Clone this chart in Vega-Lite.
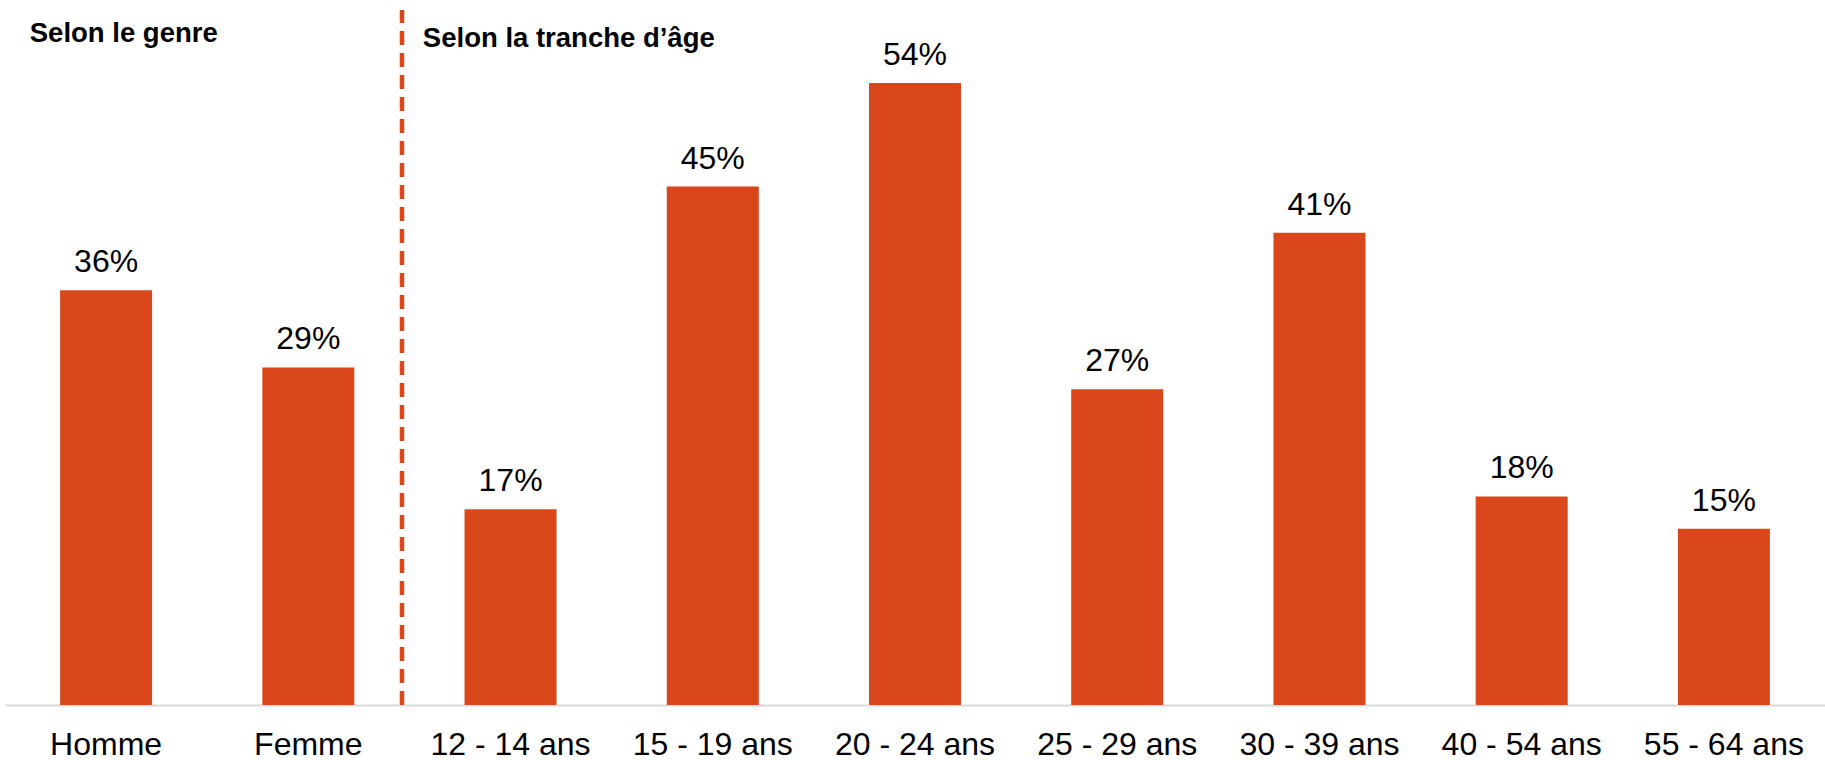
{
  "$schema": "https://vega.github.io/schema/vega-lite/v6.json",
  "autosize": {"type": "none"},
  "width": 1820,
  "height": 705,
  "padding": {"left": 5, "top": 0, "right": 0, "bottom": 55},
  "background": "white",
  "config": {
    "view": {"stroke": null},
    "font": "Liberation Sans"
  },
  "datasets": {
    "bars": [
      {"cat": "Homme", "value": 0.36},
      {"cat": "Femme", "value": 0.293},
      {"cat": "12 - 14 ans", "value": 0.17},
      {"cat": "15 - 19 ans", "value": 0.45},
      {"cat": "20 - 24 ans", "value": 0.54},
      {"cat": "25 - 29 ans", "value": 0.274},
      {"cat": "30 - 39 ans", "value": 0.41},
      {"cat": "40 - 54 ans", "value": 0.181},
      {"cat": "55 - 64 ans", "value": 0.153}
    ]
  },
  "layer": [
    {
      "data": {"name": "bars"},
      "mark": {"type": "bar", "color": "#D9471B"},
      "encoding": {
        "x": {
          "field": "cat",
          "type": "nominal",
          "sort": null,
          "scale": {"paddingInner": 0.545, "paddingOuter": 0.2725},
          "axis": {
            "title": null,
            "labelAngle": 0,
            "labelFontSize": 32,
            "labelColor": "#000000",
            "labelFont": "Liberation Sans",
            "ticks": false,
            "tickSize": 0,
            "labelPadding": 24,
            "domainColor": "#d9d9d9",
            "domainWidth": 2,
            "grid": false
          }
        },
        "y": {
          "field": "value",
          "type": "quantitative",
          "scale": {"domain": [0, 0.612], "nice": false, "zero": true},
          "axis": null
        }
      }
    },
    {
      "data": {"name": "bars"},
      "mark": {"type": "text", "fontSize": 32, "color": "#000000", "baseline": "alphabetic", "dy": -18, "font": "Liberation Sans"},
      "encoding": {
        "x": {"field": "cat", "type": "nominal", "sort": null},
        "y": {"field": "value", "type": "quantitative"},
        "text": {"field": "value", "type": "quantitative", "format": ".0%"}
      }
    },
    {
      "data": {"values": [{"cat": "12 - 14 ans", "bottom": 0, "top": 0.6033}]},
      "mark": {"type": "rule", "color": "#D9471B", "strokeWidth": 4.5, "strokeDash": [14, 8]},
      "encoding": {
        "x": {"field": "cat", "type": "nominal", "sort": null, "bandPosition": -0.68},
        "y": {"field": "bottom", "type": "quantitative"},
        "y2": {"field": "top"}
      }
    },
    {
      "data": {"values": [{"label": "Selon le genre", "cat": "Homme", "level": 0.5758}]},
      "mark": {"type": "text", "fontSize": 27.5, "fontWeight": "bold", "color": "#000000", "align": "left", "baseline": "alphabetic", "font": "Liberation Sans"},
      "encoding": {
        "x": {"field": "cat", "type": "nominal", "sort": null, "bandPosition": -0.33},
        "y": {"field": "level", "type": "quantitative"},
        "text": {"field": "label"}
      }
    },
    {
      "data": {"values": [{"label": "Selon la tranche d’âge", "cat": "12 - 14 ans", "level": 0.5712}]},
      "mark": {"type": "text", "fontSize": 27.5, "fontWeight": "bold", "color": "#000000", "align": "left", "baseline": "alphabetic", "font": "Liberation Sans"},
      "encoding": {
        "x": {"field": "cat", "type": "nominal", "sort": null, "bandPosition": -0.453},
        "y": {"field": "level", "type": "quantitative"},
        "text": {"field": "label"}
      }
    }
  ]
}
